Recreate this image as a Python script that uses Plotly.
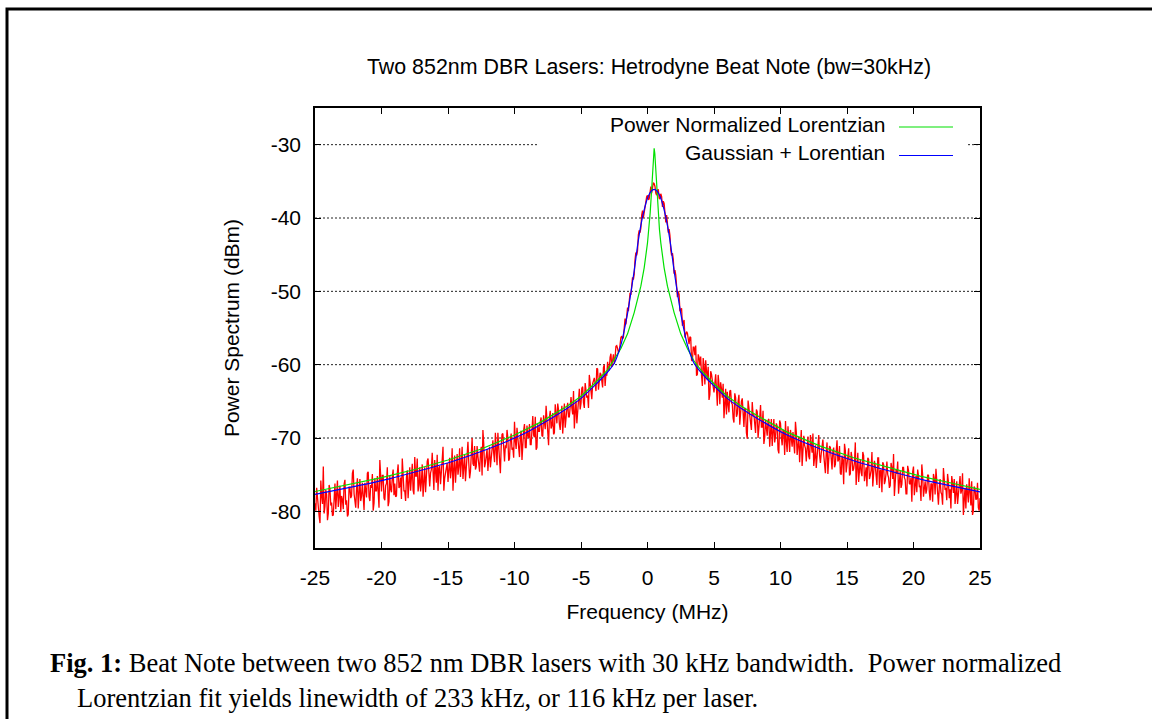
import numpy as np
import plotly.graph_objects as go

# ---------------- data ----------------
X_TICKS = [-25, -20, -15, -10, -5, 0, 5, 10, 15, 20, 25]
Y_TICKS = [-80, -70, -60, -50, -40, -30]

# measured beat note (dBm), sweep A: every 0.125 MHz from -25 to 25 MHz
freq_meas_a = np.linspace(-25, 25, 401)
power_meas_a = [
    -78.9, -76.8, -80.3, -81.6, -77.9, -73.9, -79.3, -77.7,
    -80.3, -77.0, -78.8, -80.5, -76.2, -78.1, -79.4, -76.5,
    -77.9, -79.7, -75.7, -78.5, -80.4, -76.7, -77.9, -74.3,
    -78.6, -76.9, -79.6, -75.6, -77.9, -79.0, -76.1, -78.1,
    -74.6, -78.6, -76.8, -79.9, -75.5, -77.2, -78.8, -73.0,
    -77.3, -75.1, -78.5, -76.2, -79.3, -75.2, -77.4, -74.3,
    -76.2, -77.9, -73.6, -76.6, -78.3, -75.1, -77.2, -75.4,
    -78.2, -74.0, -75.8, -77.1, -72.6, -75.2, -77.3, -74.0,
    -76.0, -78.0, -74.0, -75.2, -72.8, -76.6, -74.3, -75.5,
    -73.0, -76.1, -77.2, -73.8, -75.0, -71.2, -75.5, -74.1,
    -76.0, -72.7, -74.4, -77.2, -72.4, -73.6, -75.0, -71.4,
    -73.5, -75.6, -72.3, -74.2, -70.5, -75.5, -72.6, -73.5,
    -71.1, -73.9, -72.5, -74.6, -71.2, -68.9, -74.0, -72.5,
    -74.5, -71.2, -72.7, -70.3, -73.3, -71.4, -69.3, -73.5,
    -71.2, -69.4, -73.2, -71.4, -70.0, -72.8, -69.4, -71.3,
    -67.8, -71.5, -70.0, -72.6, -69.0, -70.6, -68.1, -71.3,
    -69.7, -68.1, -70.9, -67.0, -69.9, -71.6, -68.1, -69.1,
    -67.2, -69.8, -68.3, -65.6, -70.2, -67.2, -68.7, -66.6,
    -69.3, -66.7, -65.3, -68.1, -67.0, -69.4, -65.3, -66.9,
    -65.2, -67.1, -64.4, -66.8, -68.7, -64.9, -66.6, -63.3,
    -65.3, -63.0, -65.9, -63.3, -64.2, -61.4, -64.5, -62.6,
    -61.8, -63.6, -60.6, -62.4, -61.3, -63.1, -60.0, -61.2,
    -59.6, -60.7, -58.5, -59.3, -59.9, -57.5, -57.8, -58.2,
    -56.3, -56.5, -54.2, -54.5, -52.2, -50.5, -50.5, -48.1,
    -47.7, -44.7, -44.5, -41.7, -41.4, -39.0, -39.2, -37.5,
    -36.9, -37.4, -35.7, -35.9, -35.3, -36.6, -36.2, -37.3,
    -36.7, -38.5, -38.0, -40.6, -40.6, -41.5, -44.4, -44.8,
    -47.6, -47.8, -50.8, -50.4, -52.4, -54.7, -53.9, -55.6,
    -55.7, -57.2, -56.3, -59.5, -57.6, -57.4, -61.3, -59.0,
    -58.9, -62.9, -60.2, -59.4, -62.1, -64.8, -60.9, -61.9,
    -63.8, -61.3, -65.6, -62.7, -62.4, -64.5, -67.3, -63.3,
    -63.7, -66.5, -63.5, -65.4, -67.9, -64.5, -66.7, -64.1,
    -66.4, -64.6, -68.5, -66.2, -70.1, -65.9, -67.9, -65.1,
    -66.8, -69.3, -66.4, -69.0, -65.5, -68.5, -70.8, -67.5,
    -69.7, -67.4, -68.8, -71.1, -67.4, -69.8, -68.4, -72.1,
    -68.0, -71.0, -69.1, -67.7, -71.9, -70.1, -68.9, -71.2,
    -70.4, -67.8, -72.3, -69.8, -71.6, -73.8, -69.7, -71.4,
    -70.2, -72.5, -69.6, -72.0, -73.8, -71.0, -72.4, -69.6,
    -73.4, -71.2, -72.3, -74.8, -70.6, -73.3, -71.3, -74.3,
    -71.3, -73.6, -70.3, -72.9, -74.8, -72.4, -76.3, -71.7,
    -73.6, -71.4, -74.9, -72.7, -74.2, -70.6, -73.6, -76.0,
    -72.9, -75.2, -72.4, -74.2, -76.6, -72.9, -75.1, -71.9,
    -74.9, -73.8, -76.4, -72.7, -74.5, -77.4, -73.6, -75.8,
    -73.2, -75.4, -76.5, -74.1, -72.2, -76.3, -74.9, -77.6,
    -74.5, -76.3, -74.0, -75.7, -77.6, -74.4, -76.3, -78.7,
    -73.9, -76.0, -77.4, -75.2, -76.5, -73.6, -78.0, -75.9,
    -77.0, -75.1, -78.5, -76.3, -74.9, -77.7, -75.9, -79.1,
    -75.6, -77.7, -74.1, -77.1, -78.5, -76.0, -77.0, -75.2,
    -77.5, -79.0, -75.9, -78.0, -75.2, -77.1, -80.5, -76.8,
    -76.3, -78.8, -77.5, -75.9, -79.9, -76.9, -78.3, -79.5,
    -78.2,
]
# sweep B: the samples in between (from -24.9375 to 24.9375 MHz)
freq_meas_b = np.linspace(-24.9375, 24.9375, 400)
power_meas_b = [
    -79.9, -78.2, -80.7, -75.8, -79.0, -80.3, -77.1, -81.2,
    -76.4, -79.2, -80.6, -77.5, -79.7, -75.8, -78.3, -80.1,
    -78.4, -76.3, -79.1, -80.7, -76.7, -78.2, -74.8, -77.6,
    -79.5, -75.5, -77.3, -78.6, -76.1, -79.8, -77.5, -74.8,
    -78.0, -76.4, -74.9, -78.9, -77.2, -75.2, -79.5, -76.9,
    -75.1, -78.2, -76.5, -74.0, -78.7, -77.0, -75.3, -77.8,
    -78.0, -74.8, -76.8, -75.4, -72.8, -77.2, -78.6, -74.4,
    -75.6, -77.2, -73.5, -77.7, -75.2, -72.8, -76.4, -77.3,
    -73.6, -75.3, -77.4, -73.2, -76.2, -74.8, -72.0, -77.1,
    -75.5, -72.3, -74.1, -76.3, -73.0, -77.2, -74.7, -73.4,
    -73.4, -75.5, -71.4, -74.3, -76.1, -72.2, -73.9, -75.3,
    -71.2, -74.0, -75.9, -72.4, -73.4, -74.6, -70.0, -73.8,
    -74.3, -71.1, -73.6, -72.2, -75.1, -70.8, -73.4, -71.5,
    -72.3, -74.0, -70.5, -72.1, -69.3, -73.7, -71.4, -74.8,
    -69.5, -72.3, -71.0, -68.9, -73.1, -70.2, -71.6, -72.7,
    -70.4, -68.6, -72.0, -69.8, -73.0, -69.0, -71.3, -68.3,
    -70.0, -70.9, -68.3, -69.6, -67.1, -71.3, -69.1, -67.8,
    -69.7, -66.9, -68.8, -67.8, -71.0, -66.3, -68.3, -69.5,
    -65.4, -68.0, -66.2, -68.9, -65.6, -67.3, -68.6, -66.0,
    -67.1, -64.7, -65.9, -63.6, -66.5, -68.0, -65.0, -66.1,
    -63.2, -65.2, -62.5, -64.5, -65.9, -62.9, -64.7, -62.2,
    -62.6, -60.5, -63.4, -61.1, -62.1, -60.4, -62.9, -61.5,
    -60.7, -59.0, -60.3, -58.6, -59.1, -57.4, -58.3, -56.7,
    -56.1, -56.3, -53.7, -53.1, -52.7, -50.2, -49.1, -48.4,
    -45.7, -45.1, -42.3, -42.0, -39.6, -40.0, -38.1, -37.1,
    -37.5, -36.0, -36.6, -35.2, -35.7, -36.9, -36.1, -37.4,
    -37.1, -37.7, -40.0, -39.6, -42.0, -42.4, -45.1, -45.6,
    -47.1, -50.0, -50.0, -52.7, -52.3, -54.1, -56.3, -55.5,
    -57.0, -56.2, -59.4, -57.6, -58.7, -61.5, -58.6, -60.1,
    -61.5, -59.1, -62.7, -60.9, -60.3, -64.1, -61.3, -63.0,
    -61.9, -63.3, -61.4, -65.4, -63.3, -62.6, -65.4, -66.8,
    -65.5, -63.6, -65.2, -67.3, -63.9, -67.1, -65.0, -68.2,
    -65.0, -67.3, -65.9, -69.3, -64.9, -67.4, -68.9, -66.9,
    -68.6, -66.1, -70.0, -67.2, -68.5, -66.3, -69.9, -68.5,
    -67.6, -71.2, -67.4, -69.2, -70.6, -68.0, -71.6, -67.6,
    -69.9, -68.9, -72.3, -70.5, -68.4, -71.9, -70.1, -69.2,
    -72.1, -69.2, -70.7, -73.3, -68.9, -71.7, -71.0, -73.2,
    -69.8, -72.9, -71.2, -69.4, -72.7, -74.1, -70.9, -72.3,
    -72.1, -70.2, -73.9, -72.0, -74.9, -71.1, -73.6, -71.8,
    -74.0, -71.8, -73.2, -71.1, -75.0, -73.0, -70.8, -74.7,
    -72.4, -75.1, -71.9, -74.5, -73.3, -76.4, -72.0, -74.2,
    -74.7, -71.9, -75.9, -74.0, -72.7, -75.6, -74.4, -76.6,
    -73.1, -75.6, -72.7, -76.8, -74.3, -73.3, -76.3, -74.8,
    -75.0, -76.8, -73.4, -75.6, -77.9, -74.3, -73.2, -76.2,
    -76.8, -74.0, -75.4, -77.6, -73.8, -76.2, -75.4, -74.6,
    -77.8, -75.2, -74.3, -76.7, -78.6, -75.0, -76.5, -77.6,
    -75.0, -77.3, -76.2, -78.7, -75.5, -74.2, -78.3, -76.7,
    -77.4, -79.1, -75.6, -76.8, -74.9, -78.2, -79.6, -76.1,
    -75.6, -77.7, -79.0, -76.4, -77.6, -74.8, -78.5, -79.6,
    -77.5, -75.5, -79.2, -80.5, -76.6, -78.4, -76.1, -79.9,
]

# power normalized Lorentzian fit
freq_lor = [-25, -22.5, -20, -17.5, -15, -12.5, -10, -8, -6, -5, -4, -3, -2, -1.5,
            -1, -0.5, -0.25, 0, 0.1, 0.2, 0.3, 0.35, 0.4, 0.45, 0.5, 0.55, 0.6,
            0.65, 0.7, 0.8, 0.9, 1, 1.25, 1.5, 2, 2.5, 3, 3.5, 4, 5, 6, 7, 8.5,
            10.5, 13, 15.5, 18, 20.5, 23, 25]
power_lor = [-77.3, -76.4, -75.4, -74.3, -73.0, -71.5, -69.6, -67.8, -65.6, -64.3,
             -62.6, -60.7, -57.8, -55.8, -52.9, -49.3, -46.8, -43.4, -41.6, -39.3,
             -36.5, -34.7, -32.9, -31.2, -30.5, -31.2, -32.9, -34.7, -36.5, -39.3,
             -41.6, -43.4, -46.8, -49.3, -52.9, -55.8, -57.8, -59.5, -60.7, -62.6,
             -64.3, -65.6, -67.2, -69.2, -71.1, -72.7, -74.0, -75.2, -76.2, -77.0]

# Gaussian + Lorentzian fit
freq_gl = [-25, -22, -19.5, -17, -14.5, -12, -9.5, -7.5, -6, -5, -4, -3, -2.5, -2,
           -1.5, -1.25, -1, -0.75, -0.5, -0.25, 0, 0.25, 0.5, 0.75, 1, 1.25, 1.5,
           1.75, 2, 2.25, 2.5, 3, 3.5, 4, 5, 6, 7, 8.5, 10.5, 13, 15.5, 18, 20.5,
           23, 25]
power_gl = [-77.7, -76.6, -75.6, -74.4, -73.1, -71.5, -69.6, -67.6, -65.9, -64.6,
            -62.9, -61.0, -59.8, -57.3, -53.0, -50.2, -47.2, -43.8, -41.0, -38.9,
            -37.3, -36.4, -36.1, -36.4, -37.3, -38.9, -41.0, -43.8, -47.2, -50.2,
            -53.0, -57.3, -59.8, -61.0, -62.9, -64.6, -65.9, -67.6, -69.6, -71.5,
            -73.1, -74.4, -75.6, -76.6, -77.35]

LEGEND_NAMES = ["Power Normalized Lorentzian", "Gaussian + Lorentian"]
GREEN = "#00e000"
BLUE = "#0000ff"
RED = "#ff0000"

SANS = "Liberation Sans, Arial, sans-serif"
SERIF = "Liberation Serif, Times New Roman, serif"

W, H = 1152, 719
L, R, T, B = 315, 980, 108, 548


def px(xp):
    return (xp - L) / (R - L)


def py(yp):
    return (B - yp) / (B - T)


# merge the two interleaved sweeps in frequency order
freq_meas = np.concatenate([freq_meas_a, freq_meas_b])
power_meas = np.concatenate([np.array(power_meas_a), np.array(power_meas_b)])
order = np.argsort(freq_meas)
freq_meas = freq_meas[order]
power_meas = power_meas[order]

fig = go.Figure()
fig.add_trace(go.Scatter(x=freq_meas, y=power_meas, mode="lines",
                         line=dict(color=RED, width=1.3), showlegend=False,
                         name="Measured"))
fig.add_trace(go.Scatter(x=freq_lor, y=power_lor, mode="lines",
                         line=dict(color=GREEN, width=1.2), showlegend=False,
                         name=LEGEND_NAMES[0]))
fig.add_trace(go.Scatter(x=freq_gl, y=power_gl, mode="lines",
                         line=dict(color=BLUE, width=1.2, shape="spline", smoothing=0.5),
                         showlegend=False, name=LEGEND_NAMES[1]))

shapes = []
# dotted horizontal grid lines (the -30 one is interrupted by the key box)
for yv in Y_TICKS:
    if yv == -30:
        segs = [(-25, -8.3), (24.1, 25)]
    else:
        segs = [(-25, 25)]
    for a, b in segs:
        shapes.append(dict(type="line", xref="x", yref="y", x0=a, x1=b, y0=yv, y1=yv,
                           line=dict(color="#222222", width=1, dash="2px,2px"),
                           layer="below"))
# key samples
for i, col in enumerate([GREEN, BLUE]):
    yy = py(127 + 28.5 * i)
    shapes.append(dict(type="line", xref="paper", yref="paper", x0=px(899), x1=px(953),
                       y0=yy, y1=yy, line=dict(color=col, width=1.2)))
# outer frame of the figure
shapes.append(dict(type="rect", xref="paper", yref="paper", x0=px(7), x1=px(1170),
                   y0=py(740), y1=py(9), line=dict(color="black", width=3)))

annotations = []
for i, name in enumerate(LEGEND_NAMES):
    annotations.append(dict(xref="paper", yref="paper", x=px(887), y=py(124 + 28.5 * i),
                            text=name, showarrow=False, xanchor="right", yanchor="middle",
                            font=dict(family=SANS, size=21, color="black")))
annotations.append(dict(xref="paper", yref="paper", x=px(48), y=py(663),
                        text="<b>Fig. 1:</b> Beat Note between two 852 nm DBR lasers with 30 kHz bandwidth.\u00a0 Power normalized",
                        showarrow=False, xanchor="left", yanchor="middle",
                        font=dict(family=SERIF, size=26.5, color="black")))
annotations.append(dict(xref="paper", yref="paper", x=px(75), y=py(698),
                        text="Lorentzian fit yields linewidth of 233 kHz, or 116 kHz per laser.",
                        showarrow=False, xanchor="left", yanchor="middle",
                        font=dict(family=SERIF, size=26.5, color="black")))

fig.update_layout(
    width=W, height=H,
    margin=dict(l=L, r=W - R, t=T, b=H - B, pad=0),
    paper_bgcolor="white", plot_bgcolor="white",
    title=dict(text="Two 852nm DBR Lasers: Hetrodyne Beat Note (bw=30kHz)",
               xref="paper", x=px(649), xanchor="center",
               yref="container", y=1 - 67 / H, yanchor="middle",
               font=dict(family=SANS, size=21.4, color="black")),
    shapes=shapes, annotations=annotations, showlegend=False,
)
fig.update_xaxes(range=[-25, 25], tickvals=X_TICKS, ticktext=[str(v) for v in X_TICKS],
                 ticks="inside", ticklen=6, tickwidth=1, tickcolor="black",
                 showline=True, linecolor="black", linewidth=1.5, mirror="ticks",
                 showgrid=False, zeroline=False, ticklabelstandoff=10,
                 tickfont=dict(family=SANS, size=21, color="black"),
                 title=dict(text="Frequency (MHz)", standoff=16,
                            font=dict(family=SANS, size=21, color="black")))
fig.update_yaxes(range=[-85, -25], tickvals=Y_TICKS, ticktext=[str(v) for v in Y_TICKS],
                 ticks="inside", ticklen=6, tickwidth=1, tickcolor="black",
                 showline=True, linecolor="black", linewidth=1.5, mirror="ticks",
                 showgrid=False, zeroline=False, ticklabelstandoff=8,
                 tickfont=dict(family=SANS, size=21, color="black"),
                 title=dict(text="Power Spectrum (dBm)", standoff=25,
                            font=dict(family=SANS, size=21, color="black")))

fig.write_html("out.html",
               config={"displayModeBar": False, "responsive": False},
               post_script="document.body.style.margin='0px';document.body.style.padding='0px';")
